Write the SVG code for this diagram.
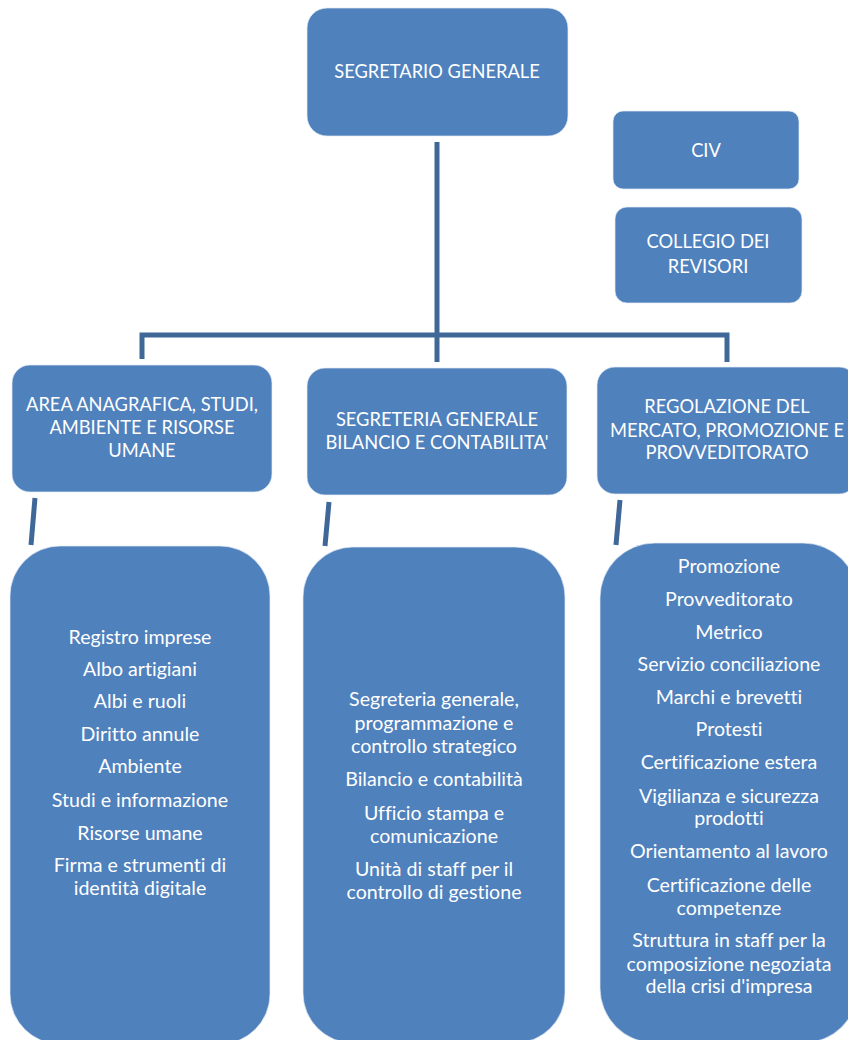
<svg xmlns="http://www.w3.org/2000/svg" width="848" height="1040" viewBox="0 0 848 1040">
<style>
.box{fill:#4f81bd;stroke:#e6edf6;stroke-width:1;stroke-opacity:0.7}
.cap{font-family:Lato,"Liberation Sans",sans-serif;font-size:18.3px;fill:#ffffff;text-anchor:middle;font-variant-ligatures:none;font-feature-settings:"liga" 0,"clig" 0,"dlig" 0}
.lst{font-family:Lato,"Liberation Sans",sans-serif;font-size:19.6px;fill:#ffffff;text-anchor:middle;font-variant-ligatures:none;font-feature-settings:"liga" 0,"clig" 0,"dlig" 0}
.con{fill:none;stroke:#3f6899;stroke-width:5}
</style>
<rect width="848" height="1040" fill="#ffffff"/>
<g id="connectors">
<path class="con" d="M437,142 V362"/>
<path class="con" d="M142,359 V335 H727 V362"/>
<path class="con" d="M35,498 L31,545" stroke-width="4"/>
<path class="con" d="M329,502 L325,546" stroke-width="4"/>
<path class="con" d="M620,500 L616,545" stroke-width="4"/>
</g>
<g id="segretario">
<rect class="box" x="307" y="8" width="261" height="128" rx="20"/>
<text class="cap" x="437" y="78">SEGRETARIO GENERALE</text>
</g>
<g id="civ">
<rect class="box" x="613" y="111" width="186" height="78" rx="10"/>
<text class="cap" x="706" y="157">CIV</text>
</g>
<g id="collegio">
<rect class="box" x="615" y="207" width="187" height="96" rx="12"/>
<text class="cap" x="708" y="248">COLLEGIO DEI</text>
<text class="cap" x="708" y="273">REVISORI</text>
</g>
<g id="area1">
<rect class="box" x="12" y="365" width="260" height="127" rx="18"/>
<text class="cap" x="142" y="411">AREA ANAGRAFICA, STUDI,</text>
<text class="cap" x="142" y="434">AMBIENTE E RISORSE</text>
<text class="cap" x="142" y="457">UMANE</text>
</g>
<g id="area2">
<rect class="box" x="307" y="368" width="260" height="127" rx="18"/>
<text class="cap" x="437" y="426">SEGRETERIA GENERALE</text>
<text class="cap" x="437" y="449">BILANCIO E CONTABILITA'</text>
</g>
<g id="area3">
<rect class="box" x="597" y="367" width="260" height="127" rx="18"/>
<text class="cap" x="727" y="413">REGOLAZIONE DEL</text>
<text class="cap" x="727" y="437">MERCATO, PROMOZIONE E</text>
<text class="cap" x="727" y="459">PROVVEDITORATO</text>
</g>
<g id="list1">
<rect class="box" x="10" y="546" width="260" height="498" rx="50"/>
<text class="lst" x="140" y="644">Registro imprese</text>
<text class="lst" x="140" y="676">Albo artigiani</text>
<text class="lst" x="140" y="708">Albi e ruoli</text>
<text class="lst" x="140" y="741">Diritto annule</text>
<text class="lst" x="140" y="773">Ambiente</text>
<text class="lst" x="140" y="807">Studi e informazione</text>
<text class="lst" x="140" y="840">Risorse umane</text>
<text class="lst" x="140" y="872">Firma e strumenti di</text>
<text class="lst" x="140" y="895">identità digitale</text>
</g>
<g id="list2">
<rect class="box" x="303" y="547" width="262" height="496" rx="50"/>
<text class="lst" x="434" y="706">Segreteria generale,</text>
<text class="lst" x="434" y="730">programmazione e</text>
<text class="lst" x="434" y="753">controllo strategico</text>
<text class="lst" x="434" y="786">Bilancio e contabilità</text>
<text class="lst" x="434" y="820">Ufficio stampa e</text>
<text class="lst" x="434" y="843">comunicazione</text>
<text class="lst" x="434" y="876">Unità di staff per il</text>
<text class="lst" x="434" y="899">controllo di gestione</text>
</g>
<g id="list3">
<rect class="box" x="600" y="543" width="258" height="500" rx="55"/>
<text class="lst" x="729" y="573">Promozione</text>
<text class="lst" x="729" y="606">Provveditorato</text>
<text class="lst" x="729" y="639">Metrico</text>
<text class="lst" x="729" y="671">Servizio conciliazione</text>
<text class="lst" x="729" y="704">Marchi e brevetti</text>
<text class="lst" x="729" y="736">Protesti</text>
<text class="lst" x="729" y="769">Certificazione estera</text>
<text class="lst" x="729" y="803">Vigilianza e sicurezza</text>
<text class="lst" x="729" y="825">prodotti</text>
<text class="lst" x="729" y="858">Orientamento al lavoro</text>
<text class="lst" x="729" y="892">Certificazione delle</text>
<text class="lst" x="729" y="915">competenze</text>
<text class="lst" x="729" y="947">Struttura in staff per la</text>
<text class="lst" x="729" y="971">composizione negoziata</text>
<text class="lst" x="729" y="993">della crisi d'impresa</text>
</g>
</svg>
